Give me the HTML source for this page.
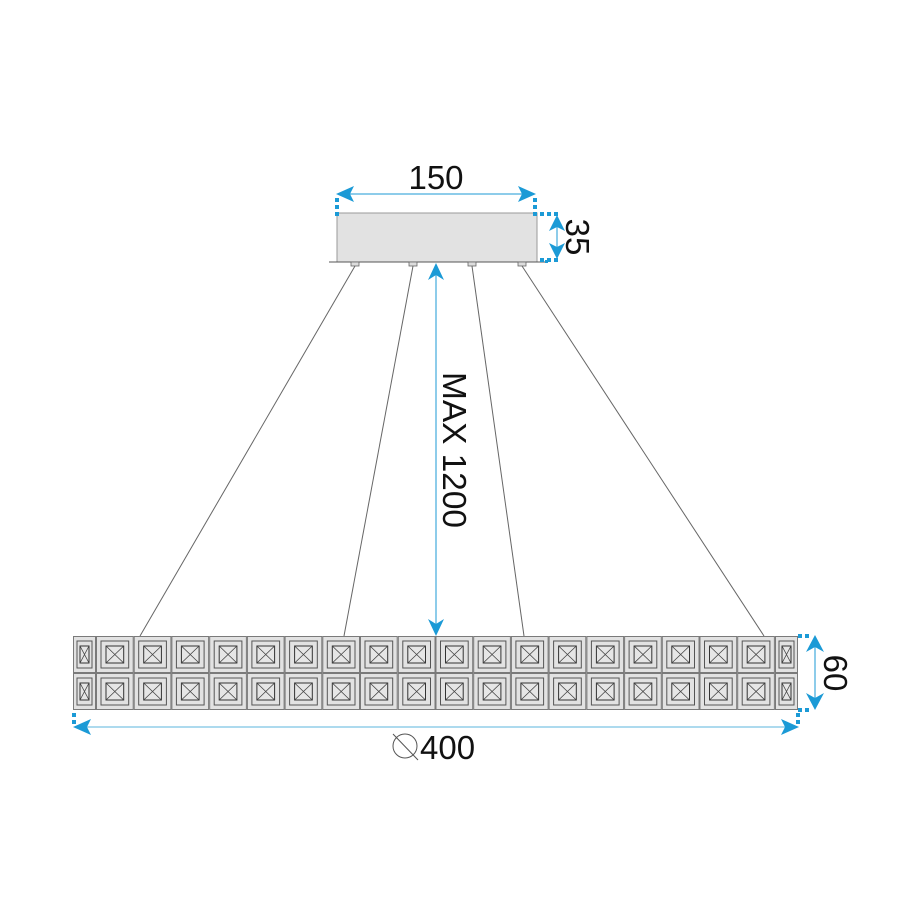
<!DOCTYPE html>
<html><head><meta charset="utf-8"><style>
html,body{margin:0;padding:0;background:#fff;}
svg{display:block;}
text{font-family:"Liberation Sans",sans-serif;fill:#111;}
</style></head><body>
<svg width="900" height="900" viewBox="0 0 900 900" xmlns="http://www.w3.org/2000/svg">
<defs>
<symbol id="w" width="38" height="37" overflow="visible">
<rect x="0.5" y="0.5" width="36.7" height="36" fill="#e2e2e2" stroke="#7a7a7a" stroke-width="1"/>
<rect x="5" y="5" width="27.7" height="27" fill="#e2e2e2" stroke="#555" stroke-width="1"/>
<rect x="10" y="10" width="17.7" height="17" fill="#e6e6e6" stroke="#333" stroke-width="1"/>
<path d="M10 10L27.7 27M27.7 10L10 27" stroke="#444" stroke-width="0.8"/>
</symbol>
<symbol id="n" width="23" height="37" overflow="visible">
<rect x="0.5" y="0.5" width="22" height="36" fill="#e2e2e2" stroke="#7a7a7a" stroke-width="1"/>
<rect x="4" y="5" width="15" height="27" fill="#e2e2e2" stroke="#555" stroke-width="1"/>
<rect x="7" y="10" width="9" height="17" fill="#e6e6e6" stroke="#333" stroke-width="1"/>
<path d="M7 10L16 27M16 10L7 27" stroke="#444" stroke-width="0.8"/>
</symbol>
</defs>

<!-- canopy -->
<rect x="337" y="213" width="200" height="49" fill="#e2e2e2" stroke="#999" stroke-width="1"/>
<line x1="329" y1="262" x2="546" y2="262" stroke="#555" stroke-width="1"/>
<g fill="#ddd" stroke="#666" stroke-width="0.8">
<rect x="351" y="262" width="8" height="4"/><rect x="409" y="262" width="8" height="4"/>
<rect x="468" y="262" width="8" height="4"/><rect x="518" y="262" width="8" height="4"/>
</g>
<!-- wires -->
<g stroke="#666" stroke-width="1">
<line x1="355" y1="266" x2="140" y2="636"/>
<line x1="413" y1="266" x2="344" y2="636"/>
<line x1="472" y1="266" x2="524" y2="636"/>
<line x1="522" y1="266" x2="764" y2="636"/>
</g>

<!-- tiles -->
<g>
<use href="#n" x="73" y="636"/><use href="#n" x="73" y="673"/>
<use href="#n" x="775" y="636"/><use href="#n" x="775" y="673"/>
<use href="#w" x="96" y="636"/><use href="#w" x="96" y="673"/>
<use href="#w" x="133.7" y="636"/><use href="#w" x="133.7" y="673"/>
<use href="#w" x="171.4" y="636"/><use href="#w" x="171.4" y="673"/>
<use href="#w" x="209.2" y="636"/><use href="#w" x="209.2" y="673"/>
<use href="#w" x="246.9" y="636"/><use href="#w" x="246.9" y="673"/>
<use href="#w" x="284.6" y="636"/><use href="#w" x="284.6" y="673"/>
<use href="#w" x="322.3" y="636"/><use href="#w" x="322.3" y="673"/>
<use href="#w" x="360" y="636"/><use href="#w" x="360" y="673"/>
<use href="#w" x="397.8" y="636"/><use href="#w" x="397.8" y="673"/>
<use href="#w" x="435.5" y="636"/><use href="#w" x="435.5" y="673"/>
<use href="#w" x="473.2" y="636"/><use href="#w" x="473.2" y="673"/>
<use href="#w" x="510.9" y="636"/><use href="#w" x="510.9" y="673"/>
<use href="#w" x="548.6" y="636"/><use href="#w" x="548.6" y="673"/>
<use href="#w" x="586.4" y="636"/><use href="#w" x="586.4" y="673"/>
<use href="#w" x="624.1" y="636"/><use href="#w" x="624.1" y="673"/>
<use href="#w" x="661.8" y="636"/><use href="#w" x="661.8" y="673"/>
<use href="#w" x="699.5" y="636"/><use href="#w" x="699.5" y="673"/>
<use href="#w" x="737.2" y="636"/><use href="#w" x="737.2" y="673"/>
</g>

<!-- blue dimension lines -->
<g stroke="#1b9ad6" fill="#1b9ad6">
<!-- 150 -->
<line x1="340" y1="194" x2="532" y2="194" stroke-width="1"/>
<path d="M336 194L354 186L350 194L354 202Z" stroke="none"/>
<path d="M536 194L518 186L522 194L518 202Z" stroke="none"/>
<g stroke="none">
<rect x="335" y="198" width="4" height="4"/><rect x="335" y="205" width="4" height="4"/><rect x="335" y="212" width="4" height="4"/>
<rect x="533" y="198" width="4" height="4"/><rect x="533" y="205" width="4" height="4"/><rect x="533" y="212" width="4" height="4"/>
<rect x="540" y="212" width="4" height="4"/><rect x="547" y="212" width="4" height="4"/><rect x="554" y="212" width="4" height="4"/>
<rect x="540" y="258" width="4" height="4"/><rect x="547" y="258" width="4" height="4"/><rect x="554" y="258" width="4" height="4"/>
<rect x="545" y="260" width="3" height="3"/>
</g>
<!-- 35 -->
<line x1="557" y1="220" x2="557" y2="254" stroke-width="1"/>
<path d="M557 215L549 231L557 227L565 231Z" stroke="none"/>
<path d="M557 259L549 243L557 247L565 243Z" stroke="none"/>
<!-- MAX 1200 -->
<line x1="436" y1="268" x2="436" y2="632" stroke-width="1"/>
<path d="M436 263L428 280L436 275L444 280Z" stroke="none"/>
<path d="M436 636L428 619L436 624L444 619Z" stroke="none"/>
<!-- 60 -->
<line x1="815" y1="640" x2="815" y2="706" stroke-width="1"/>
<path d="M815 635L806 652L815 647L824 652Z" stroke="none"/>
<path d="M815 710L806 693L815 698L824 693Z" stroke="none"/>
<g stroke="none">
<rect x="798" y="634" width="4" height="4"/><rect x="805" y="634" width="4" height="4"/>
<rect x="798" y="708" width="4" height="4"/><rect x="805" y="708" width="4" height="4"/>
<rect x="72" y="713" width="4" height="4"/><rect x="72" y="720" width="4" height="4"/>
<rect x="796" y="713" width="4" height="4"/><rect x="796" y="720" width="4" height="4"/>
</g>
<!-- 400 -->
<line x1="78" y1="727" x2="794" y2="727" stroke="#7cc4e4" stroke-width="1.2"/>
<path d="M73 727L91 719L87 727L91 735Z" stroke="none"/>
<path d="M799 727L781 719L785 727L781 735Z" stroke="none"/>
</g>

<!-- labels -->
<text x="436" y="189" font-size="33" text-anchor="middle">150</text>
<text transform="translate(566,237) rotate(90)" font-size="33" text-anchor="middle">35</text>
<text transform="translate(443,450) rotate(90)" font-size="33" text-anchor="middle" textLength="156" lengthAdjust="spacingAndGlyphs">MAX 1200</text>
<text transform="translate(824,673) rotate(90)" font-size="33" text-anchor="middle">60</text>
<circle cx="405" cy="746" r="12" fill="none" stroke="#555" stroke-width="1"/>
<line x1="393" y1="734" x2="418" y2="760" stroke="#555" stroke-width="1"/>
<text x="420" y="759" font-size="33">400</text>
</svg>
</body></html>
